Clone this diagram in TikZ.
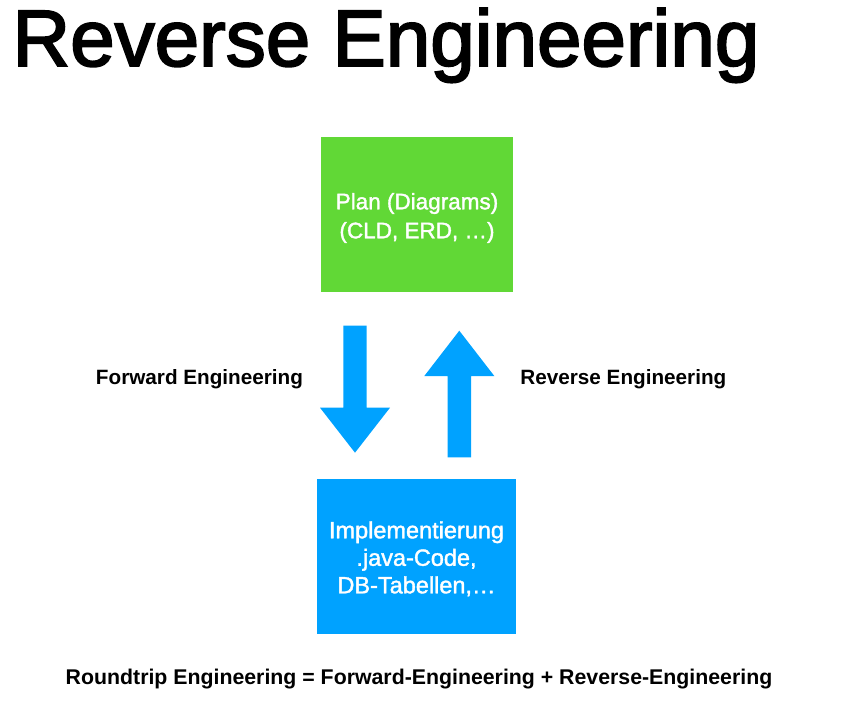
\documentclass[tikz,border=0pt]{standalone}
\usepackage{fontspec}
\setmainfont{Liberation Sans}
\newfontfamily\titlefont[FakeBold=2.4]{Liberation Sans}
\newfontfamily\boxfont[FakeBold=1.6]{Liberation Sans}
\definecolor{kgreen}{HTML}{61D836}
\definecolor{kblue}{HTML}{00A2FF}
\begin{document}
\begin{tikzpicture}[x=1pt,y=-1pt,
  box/.style={inner sep=0pt, minimum width=#1, minimum height=155pt},
  boxtext/.style={inner sep=0pt, align=center, text=white, anchor=base},
  lbl/.style={inner sep=0pt, anchor=base, font=\fontsize{20.7}{24}\selectfont\bfseries},
  blockarrow/.style={fill=kblue, draw=none}]
\useasboundingbox[fill=white] (0,0) rectangle (841,704);
\node[inner sep=0pt, anchor=base, font=\titlefont\fontsize{80}{90}\selectfont] (title) at (386,66) {Reverse Engineering};
\node[box=192pt, fill=kgreen] (plan) at (417,214.5) {};
\node[boxtext, font=\boxfont\fontsize{22.5}{29}\selectfont] (plantext) at (plan.center |- 0,238.3) {Plan (Diagrams)\\(CLD, ERD, \dots)};
\node[box=198.4pt, fill=kblue] (impl) at (416.5,556.8) {};
\node[boxtext, font=\boxfont\fontsize{23.5}{27.5}\selectfont] (impltext) at (impl.center |- 0,593.3) {Implementierung\\.java-Code,\\DB-Tabellen,\dots};
% down arrow (Forward Engineering)
\fill[blockarrow] (343.3,325.7) -- (366.7,325.7) -- (366.7,407.7) -- (390,407.7) -- (355,452.7) -- (320,407.7) -- (343.3,407.7) -- cycle;
% up arrow (Reverse Engineering)
\fill[blockarrow] (447.7,457.3) -- (471,457.3) -- (471,376) -- (494.3,376) -- (459.3,330.7) -- (424.3,376) -- (447.7,376) -- cycle;
\node[lbl] (fwd) at (199.5,384.3) {Forward Engineering};
\node[lbl] (rev) at (623.4,384.3) {Reverse Engineering};
\node[inner sep=0pt, anchor=base, font=\fontsize{21.3}{25}\selectfont\bfseries] (round) at (419,684.3) {Roundtrip Engineering = Forward-Engineering + Reverse-Engineering};
\end{tikzpicture}
\end{document}
